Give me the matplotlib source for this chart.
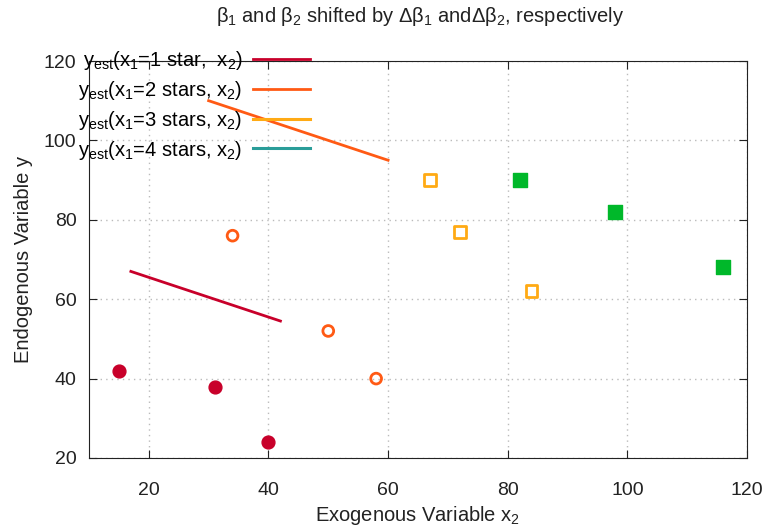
import matplotlib.pyplot as plt
import numpy as np

plt.rcParams['font.family'] = ['Liberation Sans', 'DejaVu Sans']
plt.rcParams['mathtext.default'] = 'regular'
plt.rcParams['font.size'] = 14.5

# observed data, one group per star rating
x_1star = [15, 31, 40]
y_1star = [42, 38, 24]
x_2star = [34, 50, 58]
y_2star = [76, 52, 40]
x_3star = [67, 72, 84]
y_3star = [90, 77, 62]
x_4star = [82, 98, 116]
y_4star = [90, 82, 68]

# fitted lines (end points)
fit1_x = [17, 42]
fit1_y = [67, 54.5]
fit2_x = [30, 60]
fit2_y = [110, 95]

labels = ['y$_{est}$(x$_1$=1 star,  x$_2$)',
          'y$_{est}$(x$_1$=2 stars, x$_2$)',
          'y$_{est}$(x$_1$=3 stars, x$_2$)',
          'y$_{est}$(x$_1$=4 stars, x$_2$)']

c_red = '#c8002a'
c_orange = '#ff5a14'
c_yellow = '#ffaa14'
c_teal = '#2a9d99'
c_green = '#00b82a'

fig = plt.figure(figsize=(7.68, 5.29), dpi=100)
ax = fig.add_axes([89/768, 1-458/529, (747-89)/768, (458-61)/529])

l1, = ax.plot(fit1_x, fit1_y, color=c_red, lw=2)
l2, = ax.plot(fit2_x, fit2_y, color=c_orange, lw=2)
l3, = ax.plot([], [], color=c_yellow, lw=2.2)
l4, = ax.plot([], [], color=c_teal, lw=2.2)

ax.scatter(x_1star, y_1star, s=85, color=c_red, marker='o', zorder=3)
ax.scatter(x_2star, y_2star, s=60, facecolors='none', edgecolors=c_orange,
           marker='o', linewidths=2, zorder=3)
ax.scatter(x_3star, y_3star, s=70, facecolors='none', edgecolors=c_yellow,
           marker='s', linewidths=2, zorder=3)
ax.scatter(x_4star, y_4star, s=95, color=c_green, marker='s', zorder=3)

ax.set_xlim(10, 120)
ax.set_ylim(20, 120)
ax.set_xticks(np.arange(20, 121, 20))
ax.set_yticks(np.arange(20, 121, 20))
ax.grid(True, color='#bbbbbb', linestyle=(0, (1, 3)), lw=1)
ax.tick_params(direction='in', top=True, right=True, length=6, colors='#222222',
               labelcolor='#222222', labelsize=14)
ax.tick_params(axis='x', pad=17)
ax.tick_params(axis='y', pad=9)
for s in ax.spines.values():
    s.set_color('#222222')

ax.set_xlabel('Exogenous Variable x$_2$', fontsize=14.5, color='#222222', labelpad=4)
ax.set_ylabel('Endogenous Variable y', fontsize=14.5, color='#222222', labelpad=8)
fig.text(420/768, 1-17/529, 'β$_1$ and β$_2$ shifted by Δβ$_1$ andΔβ$_2$, respectively',
         ha='center', va='center', fontsize=14.5, color='#222222')

fig.legend([l1, l2, l3, l4], labels, loc='upper right',
           bbox_to_anchor=(310/768, 1-49/529), frameon=False, markerfirst=False,
           handlelength=2.84, handletextpad=0.5, labelspacing=0.34, borderpad=0,
           borderaxespad=0, fontsize=14.5)

fig.savefig('out.png', dpi=100)
